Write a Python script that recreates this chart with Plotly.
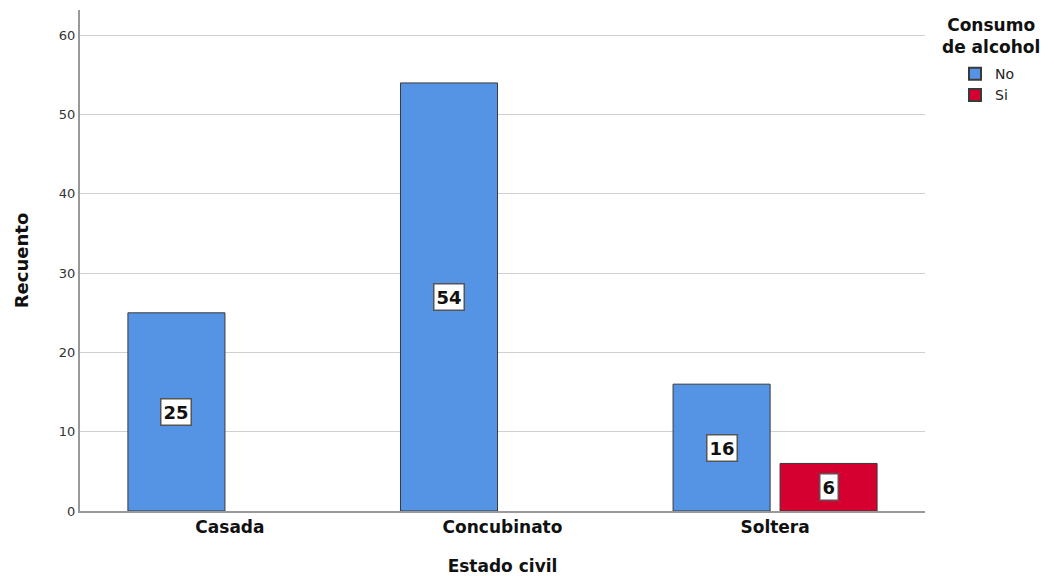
import plotly.graph_objects as go

categories = ["Casada", "Concubinato", "Soltera"]
no_values = [25, 54, 16]
si_values = [None, None, 6]
series_names = ["No", "Si"]
y_ticks = [0, 10, 20, 30, 40, 50, 60]

FONT = "DejaVu Sans, Arial, sans-serif"
BARGAP = 0.215
BARGROUPGAP = 0.093
slot = (1 - BARGAP) / 2

fig = go.Figure()
fig.add_trace(go.Bar(x=categories, y=no_values, name=series_names[0],
                     marker=dict(color="#5593E4", line=dict(color="#3A3A3A", width=1))))
fig.add_trace(go.Bar(x=categories, y=si_values, name=series_names[1],
                     marker=dict(color="#D5002F", line=dict(color="#3A3A3A", width=1))))

annotations = []
for s_idx, vals in enumerate([no_values, si_values]):
    off = -slot / 2 if s_idx == 0 else slot / 2
    for i, v in enumerate(vals):
        if v is None:
            continue
        annotations.append(dict(
            x=i + off, y=v / 2, xref="x", yref="y", text=f"<b>{v}</b>",
            showarrow=False, bgcolor="white", bordercolor="#555555", borderwidth=1.5,
            borderpad=2, font=dict(family=FONT, size=18, color="#111111")))

# legend title as annotation (centred above legend items)
annotations.append(dict(
    x=1.078, y=0.995, xref="paper", yref="paper", xanchor="center", yanchor="top",
    text="<b>Consumo<br>de alcohol</b>", showarrow=False, align="center",
    font=dict(family=FONT, size=17, color="#111111")))

fig.update_layout(
    width=1046, height=568,
    margin=dict(l=72, r=129, t=2, b=65, autoexpand=False),
    paper_bgcolor="white", plot_bgcolor="white",
    barmode="group", bargap=BARGAP, bargroupgap=BARGROUPGAP,
    font=dict(family=FONT, color="#222222"),
    showlegend=True,
    legend=dict(
        x=1.0355, y=0.904, xanchor="left", yanchor="top",
        font=dict(family=FONT, size=14, color="#222222"),
        itemsizing="constant", tracegroupgap=0,
        bgcolor="rgba(0,0,0,0)",
    ),
    annotations=annotations,
)
fig.update_xaxes(
    type="category", range=[-0.55, 2.55],
    showline=True, linecolor="#999999", linewidth=2,
    ticks="", tickfont=dict(family=FONT, size=17, color="#111111"),
    tickprefix="<b>", ticksuffix="</b>",
    title=dict(text="<b>Estado civil</b>", font=dict(family=FONT, size=17, color="#111111"), standoff=29),
    showgrid=False,
)
fig.update_yaxes(
    range=[0, 63.2], tickvals=y_ticks,
    showline=True, linecolor="#999999", linewidth=2,
    ticks="", tickfont=dict(family=FONT, size=13, color="#333333"),
    showgrid=True, gridcolor="#D0D0D0", gridwidth=1, zeroline=False,
    title=dict(text="<b>Recuento</b>", font=dict(family=FONT, size=18, color="#111111"), standoff=26),
)

fig.write_html("out.html")
